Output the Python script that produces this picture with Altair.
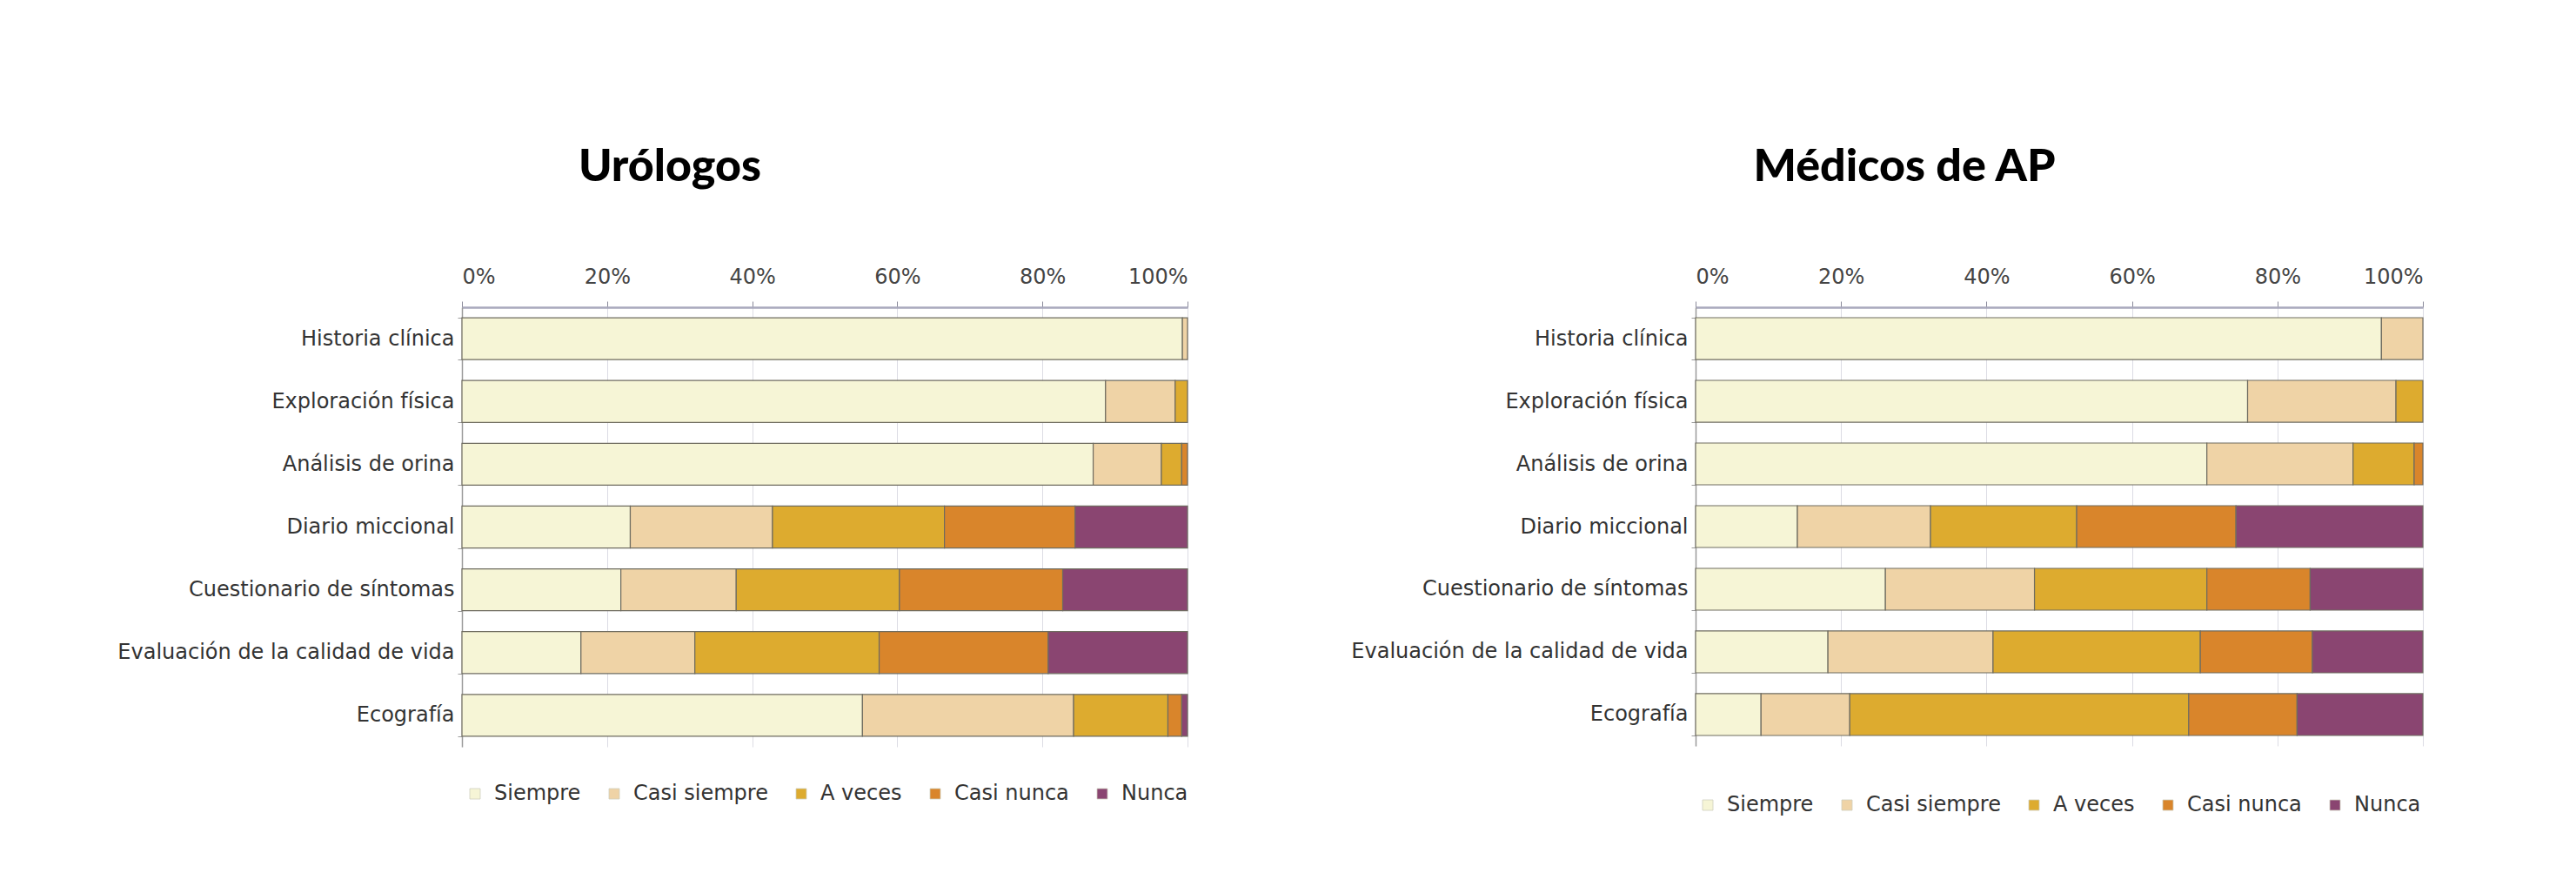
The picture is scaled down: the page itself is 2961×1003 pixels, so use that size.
import altair as alt
import pandas as pd

categories = [
    "Historia clínica",
    "Exploración física",
    "Análisis de orina",
    "Diario miccional",
    "Cuestionario de síntomas",
    "Evaluación de la calidad de vida",
    "Ecografía",
]
responses = ["Siempre", "Casi siempre", "A veces", "Casi nunca", "Nunca"]
colors = ["#F6F5D6", "#EFD3A6", "#DDAB2F", "#D9852B", "#8A4571"]
tick_values = [0, 20, 40, 60, 80, 100]

# Urólogos (% per category, in order of categories)
uro_siempre = [99.3, 88.7, 87.0, 23.2, 21.9, 16.4, 55.2]
uro_casi_siempre = [0.7, 9.6, 9.4, 19.6, 15.9, 15.7, 29.1]
uro_a_veces = [0.0, 1.7, 2.8, 23.7, 22.5, 25.4, 13.0]
uro_casi_nunca = [0.0, 0.0, 0.8, 18.0, 22.5, 23.3, 1.9]
uro_nunca = [0.0, 0.0, 0.0, 15.5, 17.2, 19.2, 0.8]

# Médicos de AP
ap_siempre = [94.3, 75.9, 70.3, 14.0, 26.1, 18.2, 9.0]
ap_casi_siempre = [5.7, 20.4, 20.1, 18.3, 20.5, 22.7, 12.2]
ap_a_veces = [0.0, 3.7, 8.4, 20.1, 23.7, 28.5, 46.6]
ap_casi_nunca = [0.0, 0.0, 1.2, 21.9, 14.2, 15.4, 14.9]
ap_nunca = [0.0, 0.0, 0.0, 25.7, 15.5, 15.2, 17.3]

LABEL_FONT = "DejaVu Sans"


def build_df(series):
    rows = []
    for i, cat in enumerate(categories):
        for j, resp in enumerate(responses):
            v = series[j][i]
            if v > 0:
                rows.append({"categoria": cat, "respuesta": resp, "orden": j, "valor": v})
    return pd.DataFrame(rows)


def panel(title, series, width, height, title_offset, legend_x, legend_y):
    df = build_df(series)
    return (
        alt.Chart(
            df,
            title=alt.Title(
                title,
                anchor="middle",
                frame="group",
                dx=-178,
                offset=title_offset,
                font="Lato",
                fontSize=52,
                fontWeight=900,
                color="#000000",
                baseline="alphabetic",
            ),
        )
        .mark_bar(stroke="#6f6c60", strokeWidth=1.2)
        .encode(
            y=alt.Y(
                "categoria:N",
                sort=categories,
                scale=alt.Scale(paddingInner=0.333, paddingOuter=0.167),
                axis=alt.Axis(
                    title=None,
                    labelFont=LABEL_FONT,
                    labelFontSize=24,
                    labelColor="#333333",
                    labelPadding=4,
                    labelLimit=420,
                    tickBand="extent",
                    tickSize=5,
                    tickColor="#9a9a9a",
                    domainColor="#9a9a9a",
                    domainWidth=1.5,
                    minExtent=400,
                    maxExtent=400,
                ),
            ),
            x=alt.X(
                "valor:Q",
                stack="zero",
                scale=alt.Scale(domain=[0, 100], nice=False),
                axis=alt.Axis(
                    orient="top",
                    title=None,
                    values=tick_values,
                    labelExpr="datum.value + '%'",
                    labelFont=LABEL_FONT,
                    labelFontSize=24,
                    labelColor="#444444",
                    labelPadding=16,
                    tickSize=7,
                    tickColor="#8a8a9a",
                    domainColor="#a8a8bc",
                    domainWidth=2.5,
                    grid=True,
                    gridColor="#dcdce4",
                    gridWidth=1,
                ),
            ),
            color=alt.Color(
                "respuesta:N",
                sort=responses,
                scale=alt.Scale(domain=responses, range=colors),
                legend=alt.Legend(
                    title=None,
                    orient="none",
                    legendX=legend_x,
                    legendY=legend_y,
                    direction="horizontal",
                    symbolType="square",
                    symbolSize=144,
                    symbolStrokeWidth=0.8,
                    symbolStrokeColor="#cfcfbf",
                    labelFont=LABEL_FONT,
                    labelFontSize=24,
                    labelColor="#333333",
                    labelOffset=10,
                    columnPadding=26,
                ),
            ),
            order=alt.Order("orden:Q"),
        )
        .properties(width=width, height=height)
    )


left = panel(
    "Urólogos",
    [uro_siempre, uro_casi_siempre, uro_a_veces, uro_casi_nunca, uro_nunca],
    834, 505, 46, 3, 547,
)
right = panel(
    "Médicos de AP",
    [ap_siempre, ap_casi_siempre, ap_a_veces, ap_casi_nunca, ap_nunca],
    836, 504, 46, 2, 560,
)

chart = (
    alt.hconcat(left, right, spacing=183)
    .resolve_legend(color="independent")
    .properties(padding={"left": 131, "top": 166, "right": 10, "bottom": 10}, background="#ffffff")
    .configure_view(stroke=None)
)

chart.save("out.html", embed_options={"renderer": "svg", "actions": False})
